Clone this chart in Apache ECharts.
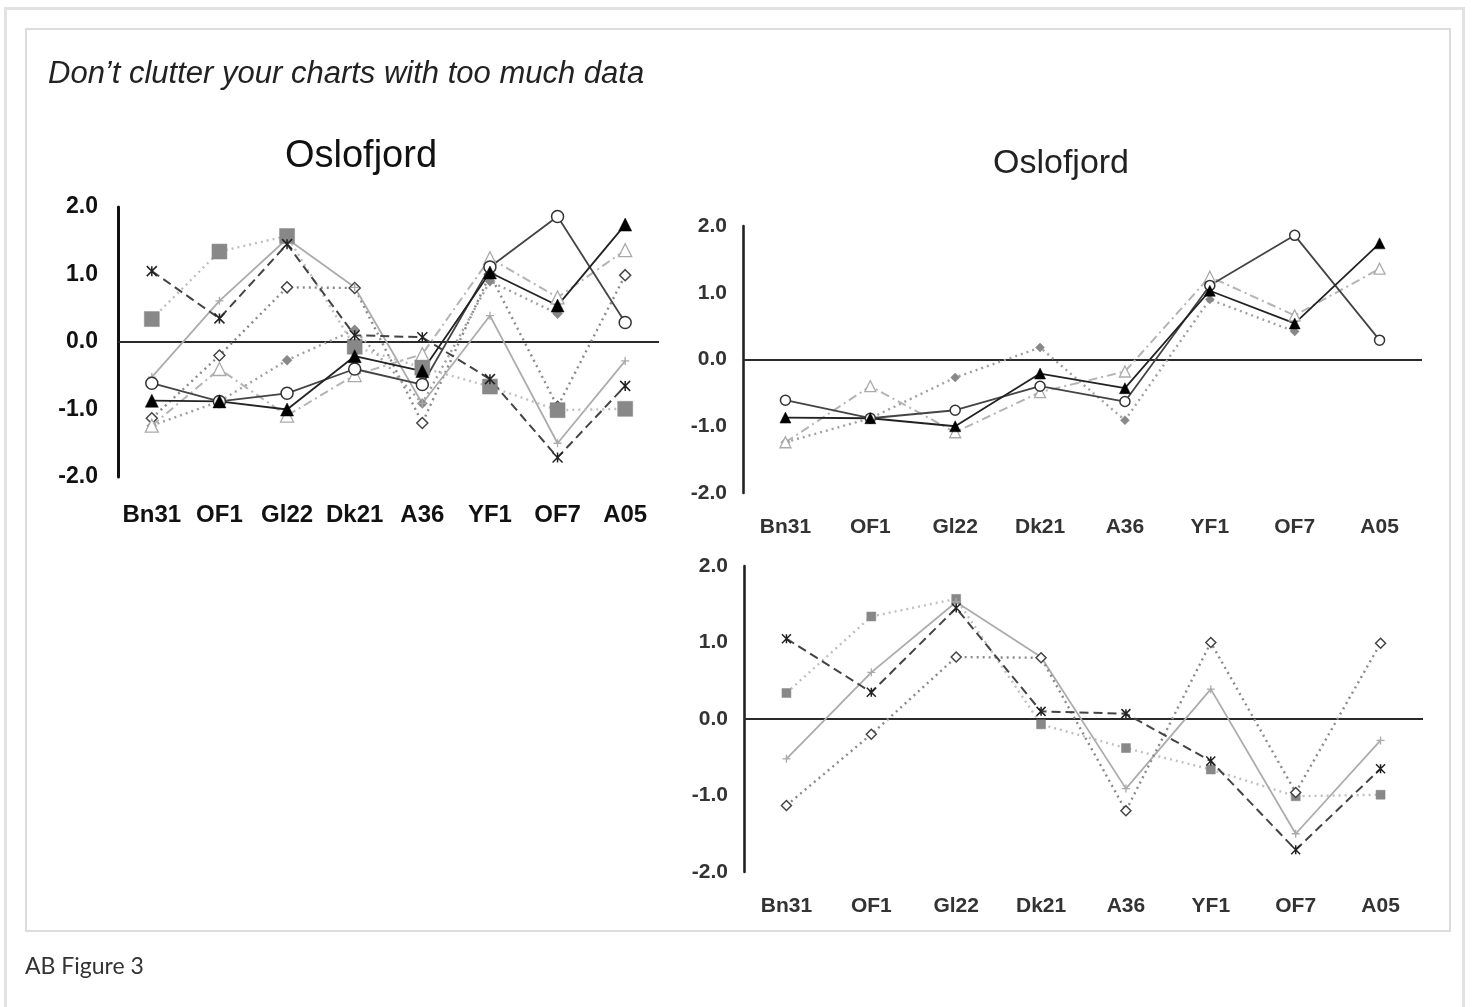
<!DOCTYPE html>
<html>
<head>
<meta charset="utf-8">
<script src="https://cdn.jsdelivr.net/npm/echarts@6/dist/echarts.min.js"></script>
<style>
  html, body { margin: 0; padding: 0; background: #fff; width: 1472px; height: 1007px; overflow: hidden; }
  #outer { position: absolute; left: 4px; top: 7px; width: 1461px; height: 1100px; border: 3px solid #e2e2e2; box-sizing: border-box; }
  #inner { position: absolute; left: 25px; top: 28px; width: 1426px; height: 904px; border: 2px solid #dcdcdc; box-sizing: border-box; }
  #chart { position: absolute; left: 0; top: 0; width: 1472px; height: 1007px; }
</style>
</head>
<body>
<div id="outer"></div>
<div id="inner"></div>
<div id="chart"></div>
<script>
// ---- data ----
const categories = ['Bn31', 'OF1', 'Gl22', 'Dk21', 'A36', 'YF1', 'OF7', 'A05'];
const yTicks = [-2, -1, 0, 1, 2];
// group shown in the upper-right chart
const openCircle   = [-0.61, -0.88, -0.76, -0.40, -0.63, 1.11, 1.86, 0.29];
const blackTri     = [-0.87, -0.88, -1.00, -0.21, -0.43, 1.03, 0.54, 1.74];
const openTri      = [-1.24, -0.40, -1.09, -0.49, -0.18, 1.24, 0.66, 1.36];
const grayDiamond  = [-1.24, -0.88, -0.27, 0.18, -0.91, 0.90, 0.42, null];
// group shown in the lower-right chart
const graySquare   = [0.34, 1.34, 1.57, -0.07, -0.38, -0.66, -1.01, -0.99];
const crossMark    = [1.05, 0.35, 1.45, 0.10, 0.07, -0.55, -1.71, -0.65];
const plusMark     = [-0.52, 0.61, 1.53, 0.81, -0.91, 0.39, -1.50, -0.28];
const openDiamond  = [-1.13, -0.20, 0.81, 0.80, -1.20, 1.00, -0.96, 0.99];

const STAR_PATH = 'path://M0,0L10,10M10,0L0,10M5,0L5,10';
const PLUS_PATH = 'path://M5,0L5,10M0,5L10,5';

// style definitions (big = left combined chart)
function styleOf(key, big) {
  const s = {
    openCircle: { sym: 'circle', size: big ? 12 : 10, line: { color: '#444', width: 1.8, type: 'solid' },
                  item: { color: '#fff', borderColor: '#333', borderWidth: 1.5 } },
    blackTri:   { sym: 'triangle', size: big ? 13 : 11, line: { color: '#222', width: 1.8, type: 'solid' },
                  item: { color: '#000', borderColor: '#000', borderWidth: 0.5 } },
    openTri:    { sym: 'triangle', size: big ? 13 : 11, line: { color: '#b4b4b4', width: 2, type: [9, 4, 2, 4] },
                  item: { color: '#fff', borderColor: '#aaa', borderWidth: 1.3 } },
    grayDiamond:{ sym: 'diamond', size: big ? 10 : 9, line: { color: '#a0a0a0', width: 2.4, type: [2, 4] },
                  item: { color: '#888', borderColor: '#888', borderWidth: 0.5 } },
    graySquare: { sym: 'rect', size: big ? 15 : 9, line: { color: '#c0c0c0', width: 2.4, type: [2, 4] },
                  item: { color: '#888', borderColor: '#888', borderWidth: 0.5 } },
    crossMark:  { sym: STAR_PATH, size: big ? 10 : 9, line: { color: '#444', width: 2, type: [9, 5] },
                  item: { color: 'none', borderColor: '#222', borderWidth: 1.5 } },
    plusMark:   { sym: PLUS_PATH, size: 8, line: { color: '#acacac', width: 1.8, type: 'solid' },
                  item: { color: 'none', borderColor: '#aaa', borderWidth: 1.3 } },
    openDiamond:{ sym: 'diamond', size: big ? 11 : 10, line: { color: '#8a8a8a', width: 2.4, type: [2, 4] },
                  item: { color: '#fff', borderColor: '#444', borderWidth: 1.5 } }
  };
  return s[key];
}

const dataMap = { openCircle, blackTri, openTri, grayDiamond, graySquare, crossMark, plusMark, openDiamond };

function makeSeries(key, gridIdx, big, withZeroLine) {
  const st = styleOf(key, big);
  const s = {
    type: 'line',
    name: key + gridIdx,
    xAxisIndex: gridIdx,
    yAxisIndex: gridIdx,
    data: dataMap[key],
    symbol: st.sym,
    symbolSize: st.size,
    showSymbol: true,
    connectNulls: false,
    lineStyle: st.line,
    itemStyle: st.item,
    animation: false,
    silent: true,
    z: 3
  };
  if (withZeroLine) {
    s.markLine = {
      silent: true,
      symbol: 'none',
      animation: false,
      label: { show: false },
      lineStyle: { color: '#2a2a2a', width: 2.2, type: 'solid' },
      data: [{ yAxis: 0 }],
      z: 2
    };
  }
  return s;
}

const grids = [
  { left: 118, top: 207, width: 541, height: 270 },
  { left: 743, top: 226, width: 679, height: 267 },
  { left: 744, top: 566, width: 679, height: 306 }
];

function xAx(idx, big) {
  return {
    type: 'category', gridIndex: idx, data: categories, boundaryGap: true,
    axisLine: { show: false }, axisTick: { show: false }, splitLine: { show: false },
    axisLabel: {
      interval: 0,
      margin: big ? 26 : 24,
      fontFamily: 'Liberation Sans, Arial, sans-serif',
      fontWeight: 'bold',
      fontSize: big ? 24 : 21,
      color: big ? '#111' : '#333'
    }
  };
}
function yAx(idx, big) {
  return {
    type: 'value', gridIndex: idx, min: yTicks[0], max: yTicks[yTicks.length - 1], interval: 1,
    axisLine: { show: true, lineStyle: { color: big ? '#111' : '#222', width: big ? 3 : 2.6 } },
    axisTick: { show: false }, splitLine: { show: false },
    axisLabel: {
      margin: big ? 20 : 16,
      formatter: v => v.toFixed(1),
      fontFamily: 'Liberation Sans, Arial, sans-serif',
      fontWeight: 'bold',
      fontSize: big ? 23 : 21,
      color: big ? '#111' : '#333'
    }
  };
}

const leftKeys = ['openDiamond', 'grayDiamond', 'plusMark', 'openTri', 'graySquare', 'crossMark', 'openCircle', 'blackTri'];
const topKeys = ['grayDiamond', 'openTri', 'openCircle', 'blackTri'];
const botKeys = ['graySquare', 'plusMark', 'openDiamond', 'crossMark'];

const series = [];
leftKeys.forEach((k, i) => series.push(makeSeries(k, 0, true, i === 0)));
topKeys.forEach((k, i) => series.push(makeSeries(k, 1, false, i === 0)));
botKeys.forEach((k, i) => series.push(makeSeries(k, 2, false, i === 0)));

const chart = echarts.init(document.getElementById('chart'), null, { renderer: 'canvas' });
chart.setOption({
  backgroundColor: 'transparent',
  animation: false,
  grid: grids,
  xAxis: [xAx(0, true), xAx(1, false), xAx(2, false)],
  yAxis: [yAx(0, true), yAx(1, false), yAx(2, false)],
  series: series,
  graphic: [
    { type: 'text', z: 50, style: { x: 48, y: 74, text: 'Don’t clutter your charts with too much data',
      textVerticalAlign: 'middle', font: 'italic 31px "Liberation Sans", Arial, sans-serif', fill: '#222' } },
    { type: 'text', z: 50, style: { x: 361, y: 157, text: 'Oslofjord', textAlign: 'center',
      textVerticalAlign: 'middle', font: '38px "Liberation Sans", Arial, sans-serif', fill: '#111' } },
    { type: 'text', z: 50, style: { x: 1061, y: 164, text: 'Oslofjord', textAlign: 'center',
      textVerticalAlign: 'middle', font: '34px "Liberation Sans", Arial, sans-serif', fill: '#222' } },
    { type: 'rect', z: 100, shape: { x: 740, y: 914, width: 705, height: 16 }, style: { fill: '#fff' } },
    { type: 'text', z: 50, style: { x: 25, y: 967, text: 'AB Figure 3', textVerticalAlign: 'middle',
      font: '23px Lato, "Open Sans", sans-serif', fill: '#333' } }
  ]
});
</script>
</body>
</html>
